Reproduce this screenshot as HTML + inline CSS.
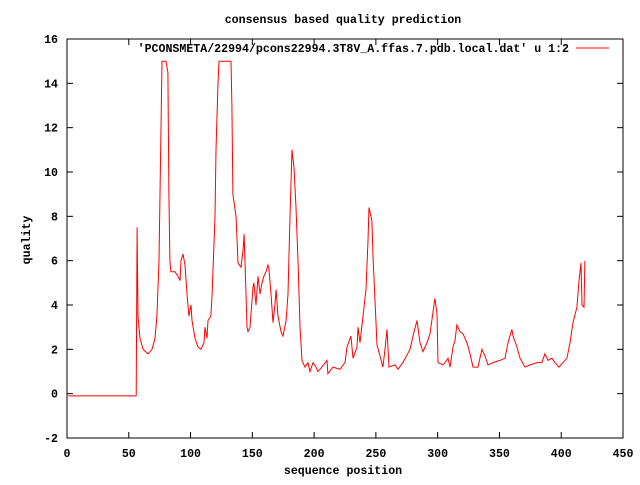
<!DOCTYPE html>
<html><head><meta charset="utf-8"><style>
html,body{margin:0;padding:0;background:#fff;}
svg text{font-family:"Liberation Mono",monospace;font-size:11.6px;font-weight:bold;fill:#000;}
</style></head><body>
<svg width="640" height="480" xmlns="http://www.w3.org/2000/svg">
<text x="343" y="23" text-anchor="middle">consensus based quality prediction</text>
<g id="axes"></g>
<rect x="67" y="39" width="556" height="399" fill="none" stroke="#000" stroke-width="1"/>
<polyline id="series" fill="none" stroke="#f00" stroke-width="1"/>
<text x="569" y="52" text-anchor="end">'PCONSMETA/22994/pcons22994.3T8V_A.ffas.7.pdb.local.dat' u 1:2</text>
<line x1="576" y1="48" x2="609" y2="48" stroke="#f00"/>
<text x="343" y="474" text-anchor="middle">sequence position</text>
<text x="0" y="0" text-anchor="middle" transform="translate(30,240) rotate(-90)">quality</text>
</svg>
<script>
const xTicks=[0,50,100,150,200,250,300,350,400,450];
const yTicks=[-2,0,2,4,6,8,10,12,14,16];
const seqX=[1,56,56.7,57.5,59.1,61.5,65.6,68.8,71.2,72.8,74.5,75.3,76.1,76.9,80.1,81.7,82.5,83.3,84.1,87.4,89.8,91.5,92.3,93.9,95.5,97.1,98.7,100.4,101.2,103.6,106,108.4,110.9,111.7,113.3,114.1,116.5,117.4,119.8,120.6,122.2,123,132.7,133.5,134.3,136.8,137.6,138.4,140.8,142.5,143.3,144.9,145.7,146.5,148.1,150.5,151.3,153,154.6,156.2,157.8,159.4,161.1,162.7,163.5,165.1,166.7,168.3,169.2,170.8,173.2,174.8,177.3,178.9,180.5,182.1,183.7,185.3,187,188.6,190.2,192.6,195,196.7,199.1,201.5,203.1,204.8,210.4,211.2,215.3,220.9,225,226.6,229.8,231.5,234.7,235.5,237.1,239.6,242,243.6,244.4,246.8,247.7,249.3,250.9,253.3,255.7,257.4,259,260.6,265.5,267.9,271.9,277.6,280,283.3,285.7,288.1,291.4,293.8,297.8,299.5,300.3,304.3,305.9,308.4,310,312.4,314,315.6,318.1,320.5,323.7,326.2,328.6,332.6,335.9,338.3,340.7,344.8,350.4,354.5,356.9,360.1,361,364.2,366.6,370.7,374.7,380.4,384.4,386.8,389.3,392.5,394.9,398.2,401.4,404.6,407.1,409.5,412.7,414.4,416,416.8,418.4,419.2];
const quality=[-0.1,-0.1,7.5,3.5,2.5,2,1.8,2,2.5,3.5,6,9,12,15,15,14.5,9,6,5.5,5.5,5.3,5.1,6,6.3,5.8,4.5,3.5,4,3.3,2.5,2.1,2,2.3,3,2.5,3.3,3.5,4.5,8,11,14,15,15,13,9,8,7,5.9,5.7,6.5,7.2,4.5,3,2.8,3,4.8,5,4,5.3,4.5,5,5.3,5.5,5.8,5.6,4.5,3.2,4,4.7,3.5,2.8,2.6,3.3,4.5,8,11,10.2,8.5,6,3,1.5,1.2,1.4,1,1.4,1.2,1,1.1,1.5,0.9,1.2,1.1,1.4,2.1,2.6,1.6,2.1,3,2.3,3.5,4.7,6.9,8.4,7.8,6.2,4.2,2.2,1.7,1.2,2,2.9,1.2,1.3,1.1,1.4,2,2.6,3.3,2.3,1.9,2.3,2.7,4.3,3.6,1.4,1.3,1.4,1.6,1.2,2.1,2.4,3.1,2.8,2.7,2.3,1.8,1.2,1.2,2,1.7,1.3,1.4,1.5,1.6,2.3,2.9,2.6,2.1,1.6,1.2,1.3,1.4,1.4,1.8,1.5,1.6,1.4,1.2,1.4,1.6,2.3,3.2,3.9,5.1,5.9,4,3.9,6];
const X0=67,X1=623,Y0=438,Y1=39;
const sx=v=>X0+(v-0)/(450-0)*(X1-X0);
const sy=v=>Y0-(v+2)/(16+2)*(Y0-Y1);
const NS="http://www.w3.org/2000/svg";
const axes=document.getElementById('axes');
function mk(tag,attrs){const e=document.createElementNS(NS,tag);for(const k in attrs)e.setAttribute(k,attrs[k]);return e;}
xTicks.forEach(t=>{
  const x=sx(t);
  const l1=mk('line',{x1:x,y1:Y0,x2:x,y2:Y0-6,stroke:'#000'});
  
  
  axes.appendChild(l1);
  const l2=mk('line',{x1:x,y1:Y1,x2:x,y2:Y1+6,stroke:'#000'});
  
  
  axes.appendChild(l2);
  const tx=mk('text',{x:x,y:Y0+19,'text-anchor':'middle'});
  tx.textContent=t;
  
  
  axes.appendChild(tx);
});
yTicks.forEach(t=>{
  const y=sy(t);
  const l1=mk('line',{x1:X0,y1:y,x2:X0+6,y2:y,stroke:'#000'});
  
  
  axes.appendChild(l1);
  const l2=mk('line',{x1:X1,y1:y,x2:X1-6,y2:y,stroke:'#000'});
  
  
  axes.appendChild(l2);
  const tx=mk('text',{x:X0-9,y:y+4,'text-anchor':'end'});
  tx.textContent=t;
  
  
  axes.appendChild(tx);
});
document.getElementById('series').setAttribute('points',seqX.map((x,i)=>sx(x).toFixed(1)+','+sy(quality[i]).toFixed(1)).join(' '));
</script>
</body></html>
